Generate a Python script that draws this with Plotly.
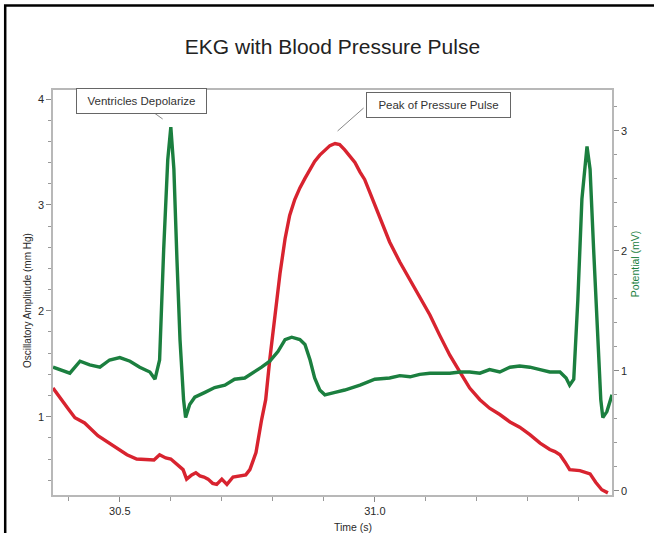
import plotly.graph_objects as go

# EKG trace (potential, mV) - right axis
ekg_time = [30.369, 30.382, 30.402, 30.422, 30.441, 30.461, 30.480, 30.500, 30.520, 30.539,
            30.559, 30.569, 30.578, 30.586, 30.594, 30.600, 30.606, 30.612, 30.618, 30.625,
            30.629, 30.637, 30.647, 30.667, 30.686, 30.706, 30.725, 30.745, 30.765, 30.778,
            30.794, 30.810, 30.824, 30.837, 30.853, 30.863, 30.873, 30.882, 30.892, 30.902,
            30.922, 30.941, 30.971, 31.000, 31.029, 31.049, 31.069, 31.088, 31.108, 31.127,
            31.147, 31.167, 31.186, 31.206, 31.225, 31.245, 31.265, 31.284, 31.304, 31.324,
            31.343, 31.363, 31.375, 31.382, 31.390, 31.398, 31.406, 31.416, 31.422, 31.429,
            31.437, 31.443, 31.447, 31.455, 31.465]
ekg_mv = [1.03, 1.01, 0.98, 1.08, 1.05, 1.03, 1.09, 1.11, 1.08, 1.03,
          0.99, 0.93, 1.09, 2.01, 2.76, 3.03, 2.68, 1.93, 1.26, 0.76,
          0.61, 0.72, 0.78, 0.82, 0.86, 0.88, 0.93, 0.94, 0.99, 1.03,
          1.08, 1.16, 1.26, 1.28, 1.26, 1.22, 1.09, 0.94, 0.84, 0.80,
          0.82, 0.84, 0.88, 0.93, 0.94, 0.96, 0.95, 0.97, 0.98, 0.98,
          0.98, 0.99, 0.99, 0.98, 1.01, 0.99, 1.03, 1.04, 1.03, 1.01,
          0.99, 0.99, 0.94, 0.88, 0.93, 1.59, 2.43, 2.87, 2.68, 2.01,
          1.26, 0.76, 0.61, 0.66, 0.80]

# Blood pressure pulse (oscillatory amplitude, mm Hg) - left axis
bp_time = [30.369, 30.382, 30.398, 30.412, 30.431, 30.457, 30.476, 30.494, 30.514, 30.533,
           30.553, 30.567, 30.578, 30.590, 30.600, 30.612, 30.624, 30.631, 30.641, 30.649,
           30.657, 30.665, 30.673, 30.682, 30.690, 30.700, 30.710, 30.722, 30.735, 30.747,
           30.755, 30.767, 30.778, 30.786, 30.794, 30.804, 30.814, 30.824, 30.833, 30.843,
           30.853, 30.863, 30.873, 30.882, 30.892, 30.902, 30.912, 30.922, 30.931, 30.941,
           30.951, 30.961, 30.971, 30.980, 30.990, 31.000, 31.010, 31.029, 31.049, 31.069,
           31.088, 31.108, 31.127, 31.147, 31.167, 31.186, 31.206, 31.225, 31.245, 31.265,
           31.284, 31.304, 31.324, 31.343, 31.353, 31.363, 31.373, 31.382, 31.402, 31.422,
           31.433, 31.445, 31.457]
bp_mmhg = [1.27, 1.18, 1.08, 0.99, 0.94, 0.82, 0.76, 0.71, 0.64, 0.60,
           0.59, 0.59, 0.64, 0.61, 0.60, 0.55, 0.50, 0.41, 0.45, 0.47,
           0.44, 0.43, 0.41, 0.37, 0.36, 0.41, 0.36, 0.43, 0.44, 0.45,
           0.50, 0.66, 0.97, 1.16, 1.54, 1.98, 2.35, 2.68, 2.90, 3.05,
           3.16, 3.25, 3.34, 3.41, 3.47, 3.52, 3.56, 3.58, 3.57, 3.52,
           3.46, 3.40, 3.31, 3.24, 3.12, 3.00, 2.86, 2.65, 2.46, 2.29,
           2.12, 1.96, 1.77, 1.58, 1.42, 1.27, 1.16, 1.08, 1.02, 0.95,
           0.90, 0.83, 0.75, 0.69, 0.67, 0.64, 0.57, 0.50, 0.49, 0.46,
           0.38, 0.31, 0.28]

x_ticks = [30.5, 31.0]
x_tick_text = ["30.5", "31.0"]
left_ticks = [1, 2, 3, 4]
right_ticks = [0, 1, 2, 3]

RED = "#d8232f"
GREEN = "#1b7f3f"
AXIS = "#b8b8b8"
FONT = "Liberation Sans, Arial, sans-serif"

fig = go.Figure()
fig.add_trace(go.Scatter(x=bp_time, y=bp_mmhg, mode="lines", yaxis="y",
                         line=dict(color=RED, width=3.4), showlegend=False))
fig.add_trace(go.Scatter(x=ekg_time, y=ekg_mv, mode="lines", yaxis="y2",
                         line=dict(color=GREEN, width=3.4), showlegend=False))

tickfont = dict(family=FONT, size=11, color="#2a2a2a")

fig.update_layout(
    width=654, height=533, autosize=False,
    margin=dict(l=53, r=42, t=90, b=38),
    paper_bgcolor="white", plot_bgcolor="white",
    font=dict(family=FONT),
    title=dict(text="EKG with Blood Pressure Pulse", x=0.5, xref="paper",
               y=1 - 47 / 533, yanchor="middle",
               font=dict(family=FONT, size=21, color="#222")),
    xaxis=dict(range=[30.369, 31.465], tickvals=x_ticks, ticktext=x_tick_text,
               showgrid=False, zeroline=False, showline=True, linecolor=AXIS,
               linewidth=1.5, mirror=True, ticks="outside", ticklen=5,
               tickcolor="#888", tickfont=tickfont,
               minor=dict(dtick=0.1, tick0=30.0, ticks="outside", ticklen=4,
                          tickcolor="#999")),
    yaxis=dict(range=[0.26, 4.085], tickvals=left_ticks, showgrid=False,
               zeroline=False, showline=True, linecolor=AXIS, linewidth=1.5,
               ticks="outside", ticklen=5, tickcolor="#888", tickfont=tickfont,
               minor=dict(dtick=0.2, tick0=0, ticks="outside", ticklen=3,
                          tickcolor="#999")),
    yaxis2=dict(range=[-0.035, 3.34], tickvals=right_ticks, overlaying="y",
                side="right", showgrid=False, zeroline=False, showline=True,
                linecolor=AXIS, linewidth=1.5, ticks="outside", ticklen=5,
                tickcolor="#888", tickfont=tickfont,
                minor=dict(dtick=0.2, tick0=0, ticks="outside", ticklen=3,
                           tickcolor="#999")),
)

# Axis titles
fig.add_annotation(text="Time (s)", xref="paper", yref="paper", x=0.537, y=-0.079,
                   showarrow=False, yanchor="middle",
                   font=dict(family=FONT, size=10.5, color="#2a2a2a"))
fig.add_annotation(text="Oscillatory Amplitude (mm Hg)", xref="paper", yref="paper",
                   x=-0.059, y=0.48, textangle=-90, showarrow=False,
                   font=dict(family=FONT, size=10, color="#2a2a2a"))
fig.add_annotation(text="Potential (mV)", xref="paper", yref="paper",
                   x=1.0555, y=0.57, textangle=-90, showarrow=False,
                   font=dict(family=FONT, size=10.5, color=GREEN))

# Callout boxes
box_font = dict(family=FONT, size=11.5, color="#333")
fig.add_annotation(text="Ventricles Depolarize", x=30.542, y=3.977, xref="x", yref="y",
                   showarrow=False, width=123, height=18, borderpad=3,
                   bordercolor="#666", borderwidth=1, bgcolor="white", font=box_font)
fig.add_annotation(text="Peak of Pressure Pulse", x=31.125, y=3.943, xref="x", yref="y",
                   showarrow=False, width=137, height=18, borderpad=3,
                   bordercolor="#666", borderwidth=1, bgcolor="white", font=box_font)

# Leader lines from the callouts
fig.add_shape(type="line", xref="x", yref="y", x0=30.543, y0=3.953, x1=30.584, y1=3.811,
              line=dict(color="#888", width=1))
fig.add_shape(type="line", xref="x", yref="y", x0=30.978, y0=3.915, x1=30.927, y1=3.698,
              line=dict(color="#888", width=1))

# Outer frame (left and top edges)
fig.add_shape(type="path", xref="paper", yref="paper",
              path="M -0.0855 -0.1 L -0.0855 1.2085 L 1.1 1.2085",
              line=dict(color="black", width=2.5))

fig.write_html("out.html")
